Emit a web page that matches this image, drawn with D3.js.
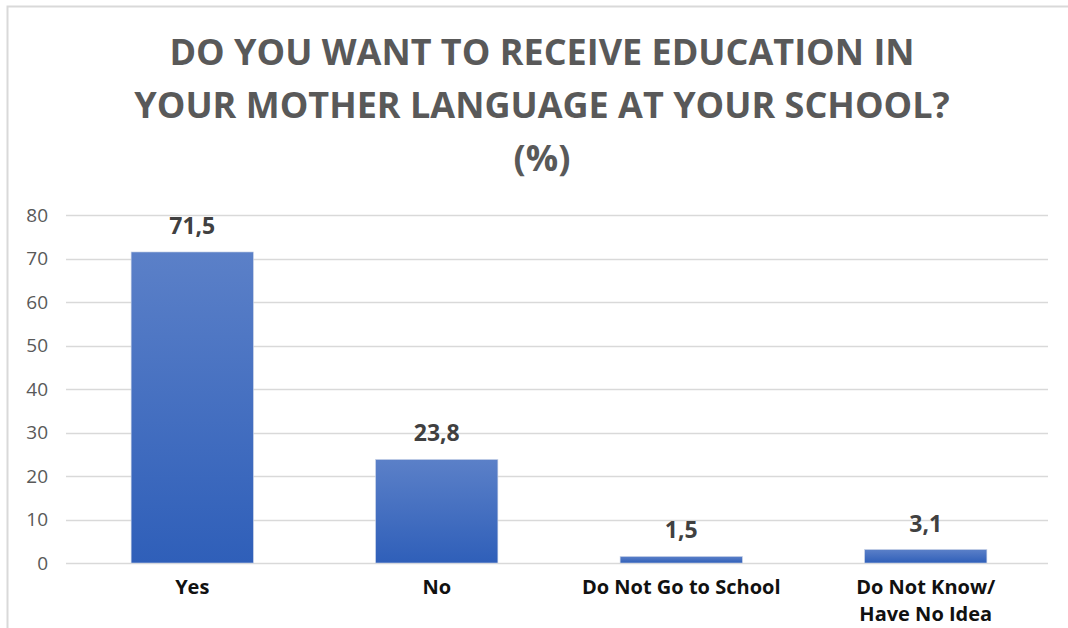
<!DOCTYPE html>
<html>
<head>
<meta charset="utf-8">
<script src="https://cdn.jsdelivr.net/npm/d3@7"></script>
<style>
  body { margin: 0; background: #fff; }
  svg { display: block; }
</style>
</head>
<body>
<div id="chart"></div>
<script>
// data
let titleLines = ["DO YOU WANT TO RECEIVE EDUCATION IN", "YOUR MOTHER LANGUAGE AT YOUR SCHOOL?", "(%)"];
let categories = [["Yes"], ["No"], ["Do Not Go to School"], ["Do Not Know/", "Have No Idea"]];
let values = [71.5, 23.8, 1.5, 3.1];
let valueLabels = ["71,5", "23,8", "1,5", "3,1"];
let yTicks = [0, 10, 20, 30, 40, 50, 60, 70, 80];

let w = 1068;
let h = 628;
let plotLeft = 66, plotRight = 1048, plotTop = 215, plotBottom = 563;

let svg = d3.select("#chart")
    .append("svg")
    .attr("width", w)
    .attr("height", h);

// gradient for bars
let grad = svg.append("defs").append("linearGradient")
    .attr("id", "barGrad")
    .attr("x1", 0).attr("y1", 0).attr("x2", 0).attr("y2", 1);
grad.append("stop").attr("offset", "0%").attr("stop-color", "#5b80c8");
grad.append("stop").attr("offset", "100%").attr("stop-color", "#2f5fb9");

// chart frame (only top and left edges visible)
svg.append("path")
    .attr("d", "M7.5,628 V6.5 H1068")
    .attr("fill", "none")
    .attr("stroke", "#d9d9d9")
    .attr("stroke-width", 2);

// title
svg.selectAll(".title")
    .data(titleLines)
    .enter()
    .append("text")
    .attr("class", "title")
    .attr("x", 542)
    .attr("y", function(d, i) { return 65 + i * 53; })
    .attr("text-anchor", "middle")
    .attr("font-family", "'Open Sans', sans-serif")
    .attr("font-weight", "bold")
    .attr("font-size", "36px")
    .attr("fill", "#595959")
    .text(function(d) { return d; });

let x = d3.scaleBand()
    .domain(d3.range(values.length))
    .range([plotLeft + 4, plotRight])
    .paddingInner(0.5)
    .paddingOuter(0.25);

let y = d3.scaleLinear()
    .domain([0, 80])
    .range([plotBottom, plotTop]);

// gridlines
svg.append("g")
    .selectAll("line")
    .data(yTicks)
    .enter()
    .append("line")
    .attr("x1", plotLeft)
    .attr("x2", plotRight)
    .attr("y1", function(d) { return Math.round(y(d)) + 0.5; })
    .attr("y2", function(d) { return Math.round(y(d)) + 0.5; })
    .attr("stroke", "#d9d9d9")
    .attr("stroke-width", 1.3);

// y axis labels
let yAxis = svg.append("g")
    .attr("transform", "translate(" + (plotLeft - 18) + ",0)")
    .call(d3.axisLeft(y).tickValues(yTicks).tickSize(0).tickPadding(0));
yAxis.select(".domain").remove();
yAxis.selectAll("text")
    .attr("font-family", "'Open Sans', sans-serif")
    .attr("font-size", "19px")
    .attr("fill", "#595959");

// bars
svg.selectAll(".bar")
    .data(values)
    .enter()
    .append("rect")
    .attr("class", "bar")
    .attr("x", function(d, i) { return x(i); })
    .attr("y", function(d) { return y(d); })
    .attr("width", x.bandwidth())
    .attr("height", function(d) { return plotBottom - y(d); })
    .attr("fill", "url(#barGrad)")
    .attr("stroke", "#c8d2e6")
    .attr("stroke-width", 0.6);

// value labels
svg.selectAll(".val")
    .data(values)
    .enter()
    .append("text")
    .attr("class", "val")
    .attr("x", function(d, i) { return x(i) + x.bandwidth() / 2; })
    .attr("y", function(d) { return y(d) - 18; })
    .attr("text-anchor", "middle")
    .attr("font-family", "'Open Sans', sans-serif")
    .attr("font-weight", "bold")
    .attr("font-size", "23px")
    .attr("fill", "#404040")
    .text(function(d, i) { return valueLabels[i]; });

// category labels
let cats = svg.selectAll(".cat")
    .data(categories)
    .enter()
    .append("text")
    .attr("class", "cat")
    .attr("x", function(d, i) { return x(i) + x.bandwidth() / 2; })
    .attr("y", 594)
    .attr("text-anchor", "middle")
    .attr("font-family", "'Open Sans', sans-serif")
    .attr("font-weight", "bold")
    .attr("font-size", "20px")
    .attr("fill", "#111111");

cats.selectAll("tspan")
    .data(function(d) { return d; })
    .enter()
    .append("tspan")
    .attr("x", function() { return this.parentNode.getAttribute("x"); })
    .attr("dy", function(d, i) { return i === 0 ? 0 : 27; })
    .text(function(d) { return d; });
</script>
</body>
</html>
